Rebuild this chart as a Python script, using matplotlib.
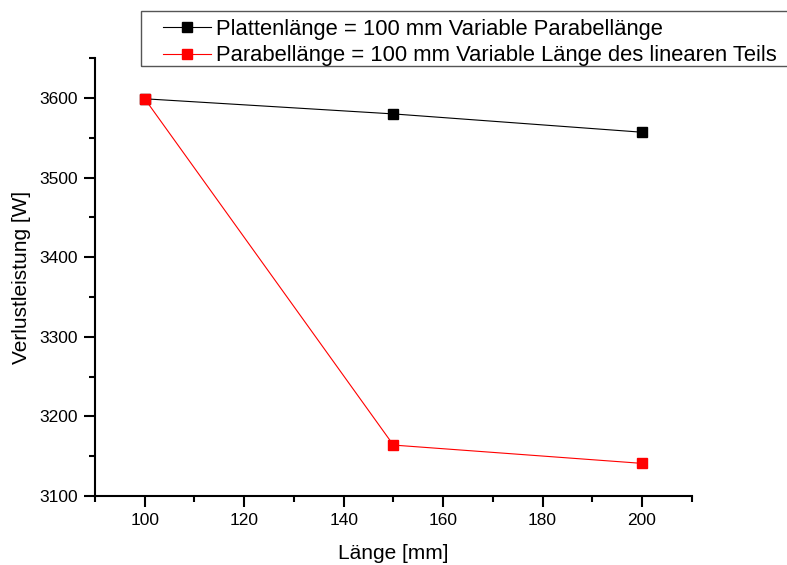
import matplotlib.pyplot as plt
from matplotlib.ticker import MultipleLocator
from matplotlib.patches import Rectangle

plt.rcParams['font.family'] = ['Liberation Sans', 'DejaVu Sans']

# Data
laenge = [100, 150, 200]
platten = [3599, 3580, 3557]       # Plattenlänge = 100 mm, variable Parabellänge
parabel = [3599, 3164, 3141]       # Parabellänge = 100 mm, variable linearer Teil

labels = ['Plattenlänge = 100 mm Variable Parabellänge',
          'Parabellänge = 100 mm Variable Länge des linearen Teils']

fig = plt.figure(figsize=(7.87, 5.65), dpi=100)
ax = fig.add_axes([0.1207, 0.1221, 0.879 - 0.1207, 0.897 - 0.1221])

ax.plot(laenge, platten, color='black', lw=0.8, marker='s', ms=7, label=labels[0])
ax.plot(laenge, parabel, color='red', lw=0.8, marker='s', ms=7, label=labels[1])

ax.set_xlim(90, 210)
ax.set_ylim(3100, 3650)
ax.xaxis.set_major_locator(MultipleLocator(20))
ax.xaxis.set_minor_locator(MultipleLocator(10))
ax.yaxis.set_minor_locator(MultipleLocator(50))
ax.set_yticks([3100, 3200, 3300, 3400, 3500, 3600])

for s in ['top', 'right']:
    ax.spines[s].set_visible(False)
for s in ['left', 'bottom']:
    ax.spines[s].set_linewidth(1.5)

ax.tick_params(which='major', direction='out', length=8, width=1.5, labelsize=12.5, pad=4)
ax.tick_params(which='minor', direction='out', length=4, width=1.5)

ax.set_xlabel('Länge [mm]', fontsize=15, labelpad=12)
ax.set_ylabel('Verlustleistung [W]', fontsize=15, labelpad=6)

# legend without its own frame, frame drawn separately so it can run off the right edge
leg = fig.legend(loc='upper left', bbox_to_anchor=(163 / 787, 1 - 19 / 565), fontsize=15.8,
                 frameon=False, handlelength=2.2, borderpad=0, borderaxespad=0,
                 labelspacing=0.25, handletextpad=0.2)
fig.patches.append(Rectangle((141 / 787, 1 - 66 / 565), 0.9, 55 / 565,
                             transform=fig.transFigure, fill=False,
                             edgecolor='#555555', linewidth=1.0))

fig.savefig('out.png', dpi=100)
